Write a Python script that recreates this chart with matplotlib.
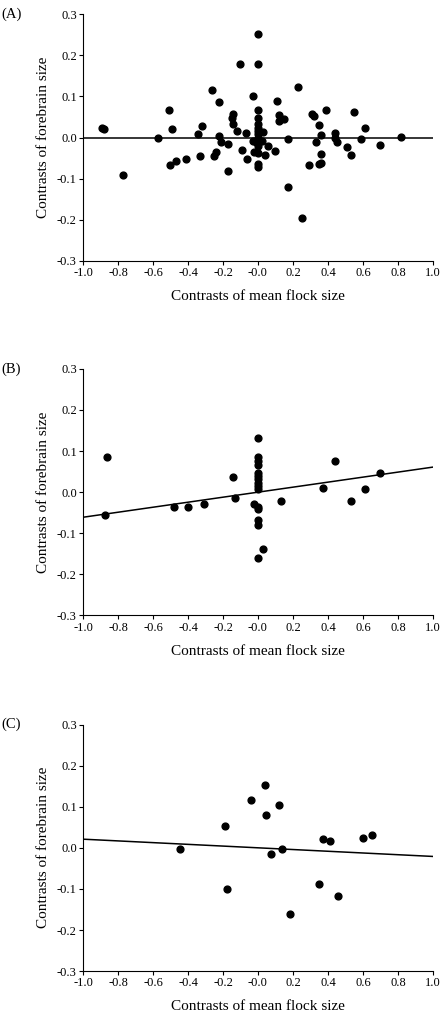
import numpy as np
import matplotlib.pyplot as plt

plt.rcParams['font.family'] = ['Liberation Serif', 'DejaVu Serif']

# panel A
xa = [-0.89, -0.88, -0.77, -0.57, -0.51, -0.49, -0.50, -0.47, -0.41, -0.34, -0.32, -0.33,
      -0.26, -0.22, -0.25, -0.24, -0.22, -0.21, -0.17, -0.17, -0.15, -0.14, -0.14, -0.12,
      -0.10, -0.09, -0.07, -0.06, -0.03, 0.0, 0.0, 0.0, 0.0, 0.0, 0.0, 0.0, 0.0, 0.0,
      -0.03, -0.01, 0.01, 0.025, 0.0, 0.03, -0.02, 0.0, 0.0, 0.0, 0.04, 0.06, 0.10, 0.11,
      0.12, 0.12, 0.15, 0.17, 0.17, 0.23, 0.25, 0.29, 0.31, 0.32, 0.33, 0.35, 0.36, 0.36,
      0.35, 0.36, 0.39, 0.44, 0.44, 0.45, 0.51, 0.53, 0.55, 0.59, 0.61, 0.70, 0.82]
ya = [0.023, 0.021, -0.09, -0.002, 0.068, 0.02, -0.066, -0.058, -0.053, 0.009, 0.028, -0.044,
      0.115, 0.086, -0.044, -0.034, 0.004, -0.012, -0.015, -0.082, 0.048, 0.058, 0.033, 0.015,
      0.18, -0.03, 0.012, -0.053, 0.10, 0.252, 0.179, 0.068, 0.048, 0.032, 0.024, 0.016, 0.008, 0.0,
      -0.008, -0.012, -0.008, -0.008, -0.02, 0.014, -0.034, -0.038, -0.065, -0.071, -0.042, -0.02, -0.032, 0.089,
      0.054, 0.04, 0.044, -0.004, -0.121, 0.123, -0.196, -0.067, 0.058, 0.052, -0.01, 0.03, 0.006, -0.039,
      -0.065, -0.062, 0.068, 0.012, 0.0, -0.012, -0.023, -0.042, 0.062, -0.003, 0.023, -0.019, 0.002]

# panel B
xb = [-0.865, -0.874, -0.48, -0.40, -0.31, -0.14, -0.13, -0.02, 0.0, 0.0, 0.0, 0.0, 0.0,
      0.0, 0.0, 0.0, 0.0, 0.0, 0.0, 0.0, 0.0, 0.0, 0.03, 0.0, 0.13, 0.37, 0.44, 0.53, 0.61, 0.70]
yb = [0.086, -0.055, -0.037, -0.037, -0.028, 0.037, -0.014, -0.028, -0.036, -0.042, 0.133,
      0.085, 0.076, 0.065, 0.047, 0.039, 0.031, 0.023, 0.015, 0.007, -0.068, -0.080, -0.139, -0.160,
      -0.021, 0.01, 0.077, -0.021, 0.008, 0.046]
fit_b = [-0.061, 0.061]

# panel C
xc = [-0.447, -0.188, -0.177, -0.038, 0.038, 0.046, 0.074, 0.12, 0.139, 0.183, 0.35, 0.373,
      0.414, 0.46, 0.60, 0.65]
yc = [-0.002, 0.052, -0.101, 0.116, 0.152, 0.079, -0.015, 0.104, -0.003, -0.160, -0.087, 0.022,
      0.017, -0.117, 0.023, 0.031]
fit_c = [0.021, -0.021]

panels = [('(A)', xa, ya, [0, 0]), ('(B)', xb, yb, fit_b), ('(C)', xc, yc, fit_c)]
tops = [0.986, 0.638, 0.289]

fig = plt.figure(figsize=(4.44, 10.19), dpi=100)
for (lab, x, y, fit), top in zip(panels, tops):
    ax = fig.add_axes([0.187, top - 0.242, 0.788, 0.242])
    ax.plot([-1, 1], fit, color='black', lw=1.1, zorder=1)
    ax.scatter(x, y, s=24, color='black', zorder=2)
    ax.set_xlim(-1, 1)
    ax.set_ylim(-0.3, 0.3)
    ax.set_xticks(np.round(np.arange(-1, 1.01, 0.2), 1))
    ax.set_yticks(np.round(np.arange(-0.3, 0.31, 0.1), 1))
    ax.xaxis.set_major_formatter(plt.FormatStrFormatter('%.1f'))
    ax.yaxis.set_major_formatter(plt.FormatStrFormatter('%.1f'))
    ax.tick_params(labelsize=9, length=3, width=0.8, pad=1.5)
    for s in ['top', 'right']:
        ax.spines[s].set_visible(False)
    ax.set_ylabel('Contrasts of forebrain size', fontsize=11, labelpad=5)
    ax.set_xlabel('Contrasts of mean flock size', fontsize=11, labelpad=8)
    fig.text(0.004, top, lab, fontsize=10.5, va='center', ha='left')

fig.savefig('out.png', dpi=100)
